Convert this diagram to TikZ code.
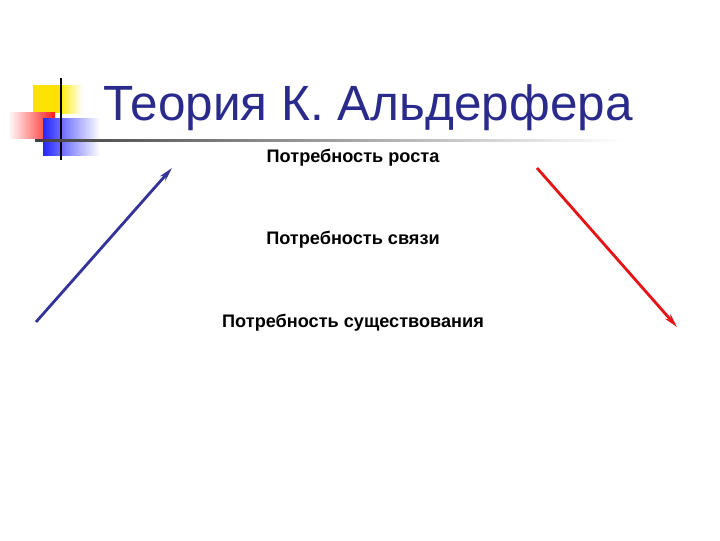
\documentclass[tikz,border=0pt]{standalone}
\usepackage{fontspec}
\setmainfont{Liberation Sans}
\usepackage{tikz}
\usetikzlibrary{arrows.meta}
\definecolor{titleblue}{RGB}{42,42,140}
\definecolor{arrowblue}{RGB}{51,51,153}
\definecolor{arrowred}{RGB}{230,20,20}
\tikzstyle{needlabel} = [font=\fontsize{12.9}{14}\selectfont\bfseries, inner sep=0]
\tikzstyle{needarrow} = [-{Stealth[length=10pt, width=5pt]}, line width=2pt]

\begin{document}
\begin{tikzpicture}[x=0.025cm, y=-0.025cm]
      \useasboundingbox (0, 0) rectangle (720, 540);
      \fill[white] (0, 0) rectangle (720, 540);

      % logo squares
      \fill[yellow!85!orange] (33, 85) rectangle (60, 113);
      \shade[left color=yellow!85!orange, right color=white] (60, 85) rectangle (82, 113);
      \shade[left color=white, right color=red!90] (8, 112) rectangle (55, 138);
      \shade[left color=blue!85, right color=white] (43, 118) rectangle (100, 155);
      \draw[line width=1.6pt] (61, 78) -- (61, 160);
      \shade[left color=black!75, right color=white] (35, 139.5) rectangle (625, 141.8);

      \node[anchor=base west, text=titleblue, inner sep=0,
            font=\fontsize{35.2}{38}\selectfont] (title) at (103, 120) {Теория К. Альдерфера};

      \node[needlabel] (growth) at (353, 158) {Потребность роста};
      \node[needlabel] (relation) at (353, 240) {Потребность связи};
      \node[needlabel] (existence) at (353, 323) {Потребность существования};

      \coordinate (upstart) at (36, 322);
      \coordinate (upend) at (172, 168);
      \coordinate (downstart) at (537, 168);
      \coordinate (downend) at (677, 327);

      \draw[needarrow, arrowblue] (upstart) -- (upend);
      \draw[needarrow, arrowred] (downstart) -- (downend);
    \end{tikzpicture}
\end{document}
